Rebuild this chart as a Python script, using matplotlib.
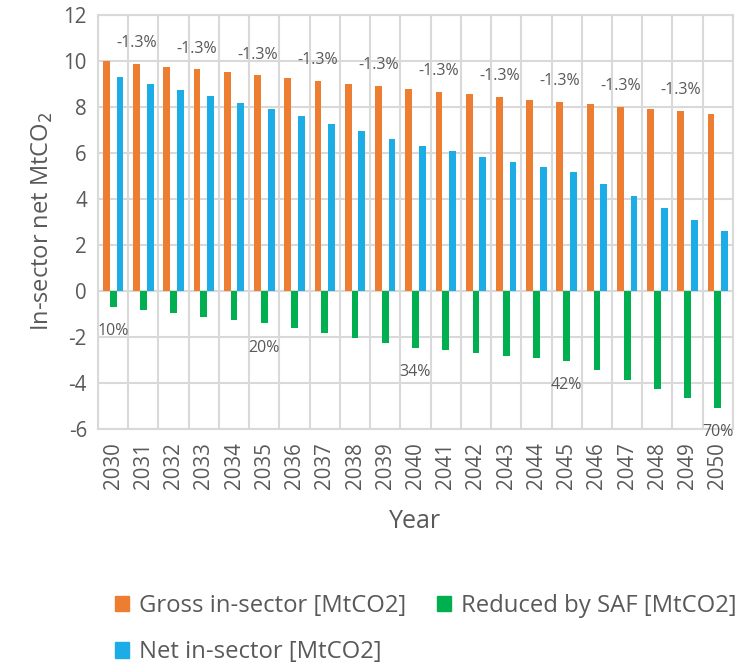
import numpy as np
import matplotlib
matplotlib.use("Agg")
import matplotlib.pyplot as plt
from matplotlib.patches import Patch

plt.rcParams['font.family'] = ['Open Sans', 'DejaVu Sans']
plt.rcParams['axes.unicode_minus'] = False

### DATA ###

years = list(range(2030, 2051))
gross = [10.00, 9.87, 9.74, 9.62, 9.49, 9.36, 9.25, 9.12, 9.00, 8.89, 8.77,
         8.65, 8.54, 8.42, 8.31, 8.22, 8.10, 7.99, 7.90, 7.80, 7.68]
reduced = [-0.70, -0.84, -0.98, -1.13, -1.29, -1.42, -1.64, -1.84, -2.06, -2.26, -2.48,
           -2.59, -2.71, -2.83, -2.94, -3.06, -3.46, -3.87, -4.27, -4.68, -5.09]
net = [9.28, 9.00, 8.73, 8.45, 8.17, 7.90, 7.58, 7.25, 6.93, 6.61, 6.29,
       6.06, 5.81, 5.60, 5.38, 5.15, 4.64, 4.12, 3.60, 3.07, 2.60]

# yearly decline labels above the gross bars
decline_years = [2031, 2033, 2035, 2037, 2039, 2041, 2043, 2045, 2047, 2049]
decline_text = "-1.3%"
# SAF share labels under the green bars
saf_years = [2030, 2035, 2040, 2045, 2050]
saf_text = ["10%", "20%", "34%", "42%", "70%"]

orange = "#ED7D31"
green = "#00B050"
blue = "#1CADE6"
grey = "#595959"
gridc = "#D9D9D9"

### DRAW ###

fig = plt.figure(figsize=(7.43, 6.65), dpi=100)
ax = fig.add_axes([0.1319, 0.3553, 0.8546, 0.6226])

x = np.arange(len(years))
w = 0.225
ax.bar(x - w, gross, w, color=orange, zorder=3)
ax.bar(x, reduced, w, color=green, zorder=3)
ax.bar(x + w, net, w, color=blue, zorder=3)

for yr in decline_years:
    i = years.index(yr)
    ax.annotate(decline_text, (x[i] - w, gross[i]), xytext=(0, 15), textcoords="offset points",
                ha="center", va="center", fontsize=11.5, color=grey)
for yr, t in zip(saf_years, saf_text):
    i = years.index(yr)
    ax.annotate(t, (x[i], reduced[i]), xytext=(0, -17.5), textcoords="offset points",
                ha="center", va="center", fontsize=11.5, color=grey)

ax.set_xlim(-0.5, len(years) - 0.5)
ax.set_ylim(-6, 12)
ax.set_yticks(range(-6, 13, 2))
ax.set_xticks(x)
ax.set_xticklabels([str(y) for y in years], rotation=90)
ax.set_xticks(np.arange(-0.5, len(years)), minor=True)
ax.tick_params(axis="both", length=0, labelsize=14.8, colors=grey)
ax.tick_params(axis="x", pad=10)
ax.tick_params(axis="y", pad=8)
ax.tick_params(which="minor", length=0)

ax.grid(axis="y", which="major", color=gridc, lw=1.5, zorder=0)
ax.grid(axis="x", which="minor", color=gridc, lw=1.5, zorder=0)
ax.axhline(0, color=gridc, lw=1.5, zorder=2)
for s in ax.spines.values():
    s.set_color(gridc)
    s.set_linewidth(1.5)

ax.set_xlabel("Year", fontsize=18, color=grey, labelpad=14)
ax.set_ylabel("In-sector net MtCO$_2$", fontsize=17, color=grey, labelpad=6)

handles = [Patch(color=orange, label="Gross in-sector [MtCO2]"),
           Patch(color=blue, label="Net in-sector [MtCO2]"),
           Patch(color=green, label="Reduced by SAF [MtCO2]")]
leg = fig.legend(handles=handles, ncol=2, loc="center", bbox_to_anchor=(0.573, 0.054),
                 frameon=False, fontsize=17.2, handlelength=0.6, handleheight=0.6,
                 handletextpad=0.4, columnspacing=1.3, labelspacing=0.95)
for t in leg.get_texts():
    t.set_color(grey)

fig.savefig("out.png", dpi=100)
